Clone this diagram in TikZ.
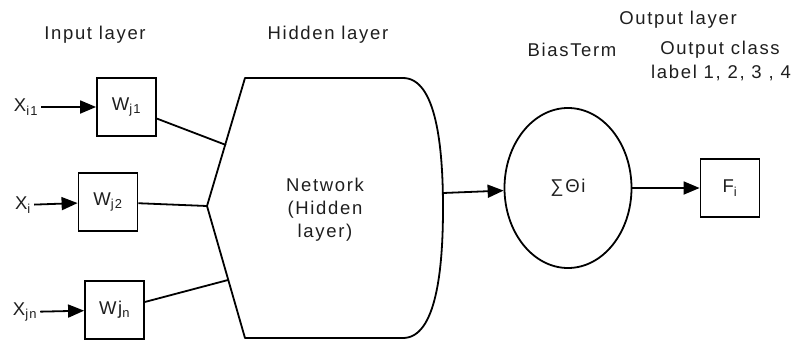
\documentclass[tikz,border=0pt]{standalone}
\usepackage{fontspec}
\setmainfont{Liberation Sans}[LetterSpace=9]
\usepackage{tikz}
\usetikzlibrary{positioning,arrows.meta,shapes.geometric}
\definecolor{cInk}{HTML}{1E1E1E}
\tikzset{
  wbox/.style={draw=black, line width=1.8pt, minimum width=59pt,
               minimum height=58pt, inner sep=0pt, text=cInk},
  lbl/.style={text=cInk, inner sep=0pt, align=center},
  inp/.style={lbl, inner sep=3pt},
  ln/.style={black, line width=1.8pt},
  ar/.style={-{Triangle[length=16pt,width=13pt]}, black, line width=1.8pt}
}

\begin{document}
\begin{tikzpicture}[x=1pt, y=-1pt, font=\fontsize{18.5}{23}\selectfont]
\useasboundingbox (0,0) rectangle (795,340);
% headings
\node[lbl] (inl) at (95,35) {Input layer};
\node[lbl] (hidl) at (328,35) {Hidden layer};
\node[lbl] (outl) at (678,20) {Output layer};
\node[lbl] (bias) at (572,50) {BiasTerm};
\node[lbl] (cls) at (720,50) {Output class};
\node[lbl] (clsn) at (721,73) {label 1, 2, 3 , 4};
% weights and inputs
\node[wbox] (w1) at (126.5,107) {W\textsubscript{j1}};
\node[wbox] (w2) at (108,202) {W\textsubscript{j2}};
\node[wbox] (wn) at (114.5,310) {Wj\textsubscript{n}};
\node[inp] (x1) at (26,107) {X\textsubscript{i1}};
\node[inp] (x2) at (23,205) {X\textsubscript{i}};
\node[inp] (xn) at (25,312) {X\textsubscript{jn}};
\draw[ar] (x1) -- (w1);
\draw[ar] (x2) -- (w2);
\draw[ar] (xn) -- (wn);
% hidden layer
\coordinate (htl) at (245,78);
\coordinate (htip) at (207,206);
\coordinate (hbl) at (245,338);
\coordinate (htr) at (403,78);
\coordinate (hbr) at (403,338);
\coordinate (hr) at (443,208);
\coordinate (h1) at (226,145);
\coordinate (hn) at (228,280);
\coordinate (hout) at (443,193);
\draw[ln, line join=round] (htr) -- (htl) -- (htip) -- (hbl) -- (hbr)
  .. controls (436,338) and (443,270) .. (hr)
  .. controls (443,146) and (436,78) .. (htr) -- cycle;
\node[lbl] (net) at (325,210) {Network\\(Hidden\\layer)};
\draw[ln] (w1) -- (h1);
\draw[ln] (w2) -- (htip);
\draw[ln] (wn) -- (hn);
% output side
\node[draw, ellipse, ln, minimum width=127pt, minimum height=160pt,
      text=cInk] (sum) at (568,188) {∑Θi};
\node[wbox] (fi) at (730,188) {F\textsubscript{i}};
\draw[ar] (hout) -- (sum);
\draw[ar] (sum) -- (fi);
\end{tikzpicture}
\end{document}
